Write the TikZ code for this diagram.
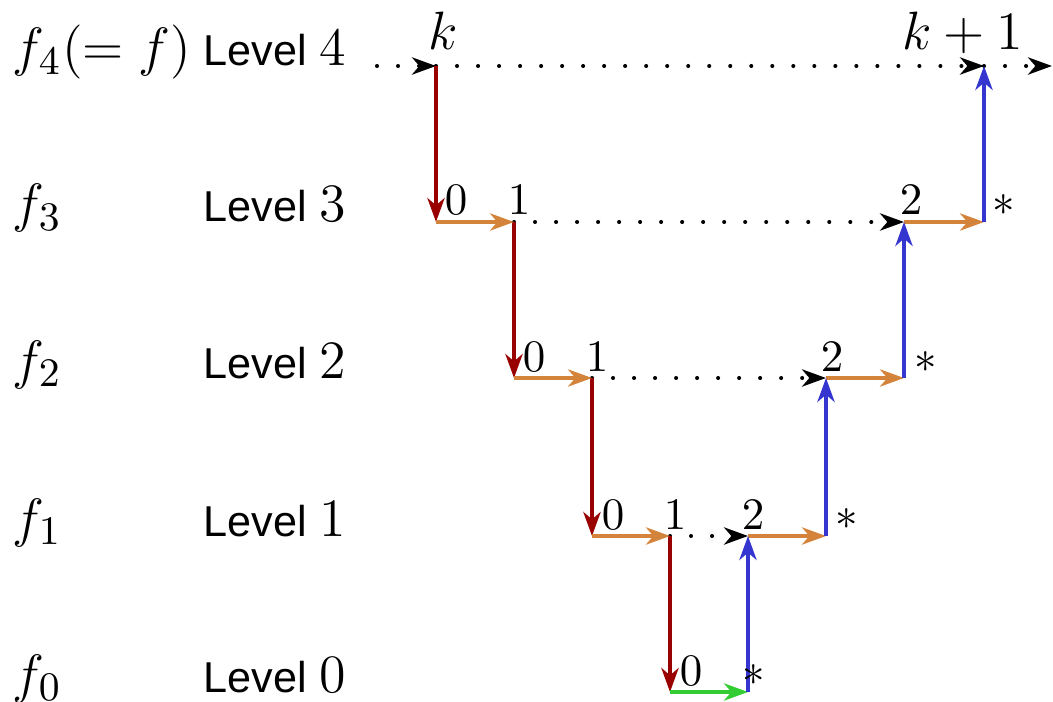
\documentclass[tikz,border=0pt]{standalone}
\usepackage{fontspec}
\newfontfamily\levelfont{Liberation Sans}
\usetikzlibrary{arrows.meta,calc}

\definecolor{downred}{HTML}{990000}
\definecolor{stepor}{HTML}{D4843A}
\definecolor{upblue}{HTML}{3535D0}
\definecolor{basegreen}{HTML}{33CC33}

\tikzset{
  tip/.style={-{Stealth[length=5.3pt,width=3.8pt,inset=1.6pt]}},
  desc/.style={tip,line width=0.95pt,downred},
  across/.style={tip,line width=0.95pt,stepor},
  ascend/.style={tip,line width=0.95pt,upblue},
  bottom/.style={tip,line width=0.95pt,basegreen},
  skip/.style={tip,line width=0.9pt,line cap=round,dash pattern=on 0pt off 4.67pt,black},
  idx/.style={inner sep=0pt,anchor=base},
  star/.style={inner sep=0pt,anchor=center},
  fname/.style={inner sep=0pt,anchor=base west,font=\fontsize{12.6}{15}\selectfont},
  lvl/.style={inner sep=0pt,anchor=base west,font=\levelfont\fontsize{9.6}{11}\selectfont},
}

\begin{document}
\begin{tikzpicture}[x=0.2222pt,y=-0.2222pt]
\useasboundingbox (0,0) rectangle (1053,702);

% grid points of the recursion
\coordinate (s4) at (377,66);
\coordinate (k4) at (436,66);
\coordinate (m4) at (984,66);
\coordinate (e4) at (1052,66);
\coordinate (a3) at (436,222);
\coordinate (b3) at (514,222);
\coordinate (c3) at (904,222);
\coordinate (d3) at (984,222);
\coordinate (a2) at (514,378);
\coordinate (b2) at (592,378);
\coordinate (c2) at (826,378);
\coordinate (d2) at (904,378);
\coordinate (a1) at (592,536);
\coordinate (b1) at (670,536);
\coordinate (c1) at (748,536);
\coordinate (d1) at (826,536);
\coordinate (a0) at (670,692);
\coordinate (d0) at (748,692);

% row labels
\node[fname] (f4) at (12,66) {$f_4(=f)$};
\node[fname] (f3) at (12,222) {$f_3$};
\node[fname] (f2) at (12,378) {$f_2$};
\node[fname] (f1) at (12,536) {$f_1$};
\node[fname] (f0) at (12,692) {$f_0$};
\node[lvl] (l4) at (203,66) {Level {\large$4$}};
\node[lvl] (l3) at (203,222) {Level {\large$3$}};
\node[lvl] (l2) at (203,378) {Level {\large$2$}};
\node[lvl] (l1) at (203,536) {Level {\large$1$}};
\node[lvl] (l0) at (203,692) {Level {\large$0$}};

% skipped stretches
\draw[skip] (s4) -- (k4);
\draw[skip] (k4) -- (m4);
\draw[skip] (m4) -- (e4);
\draw[skip] (b3) -- (c3);
\draw[skip] (b2) -- (c2);
\draw[skip] (b1) -- (c1);

% descending
\draw[desc] (k4) -- (a3);
\draw[desc] (b3) -- (a2);
\draw[desc] (b2) -- (a1);
\draw[desc] (b1) -- (a0);

% steps along a level
\draw[across] (a3) -- (b3);
\draw[across] (c3) -- (d3);
\draw[across] (a2) -- (b2);
\draw[across] (c2) -- (d2);
\draw[across] (a1) -- (b1);
\draw[across] (c1) -- (d1);
\draw[bottom] (a0) -- (d0);

% ascending
\draw[ascend] (d0) -- (c1);
\draw[ascend] (d1) -- (c2);
\draw[ascend] (d2) -- (c3);
\draw[ascend] (d3) -- (m4);

% indices
\node[idx,font=\large] (kl) at ($(k4)+(7,-16)$) {$k$};
\node[idx,font=\large] (kl1) at ($(m4)+(-21,-16)$) {$k+1$};

\node[idx] (z3) at ($(a3)+(20,-7)$) {$0$};
\node[idx] (o3) at ($(b3)+(5,-7)$) {$1$};
\node[idx] (t3) at ($(c3)+(7,-7)$) {$2$};
\node[star] (x3) at ($(d3)+(20,-17)$) {$*$};

\node[idx] (z2) at ($(a2)+(20,-7)$) {$0$};
\node[idx] (o2) at ($(b2)+(5,-7)$) {$1$};
\node[idx] (t2) at ($(c2)+(6,-7)$) {$2$};
\node[star] (x2) at ($(d2)+(22,-16)$) {$*$};

\node[idx] (z1) at ($(a1)+(21,-7)$) {$0$};
\node[idx] (o1) at ($(b1)+(5,-7)$) {$1$};
\node[idx] (t1) at ($(c1)+(5,-7)$) {$2$};
\node[star] (x1) at ($(d1)+(21,-17)$) {$*$};

\node[idx] (z0) at ($(a0)+(21,-7)$) {$0$};
\node[star] (x0) at ($(d0)+(6,-17)$) {$*$};
\end{tikzpicture}
\end{document}
